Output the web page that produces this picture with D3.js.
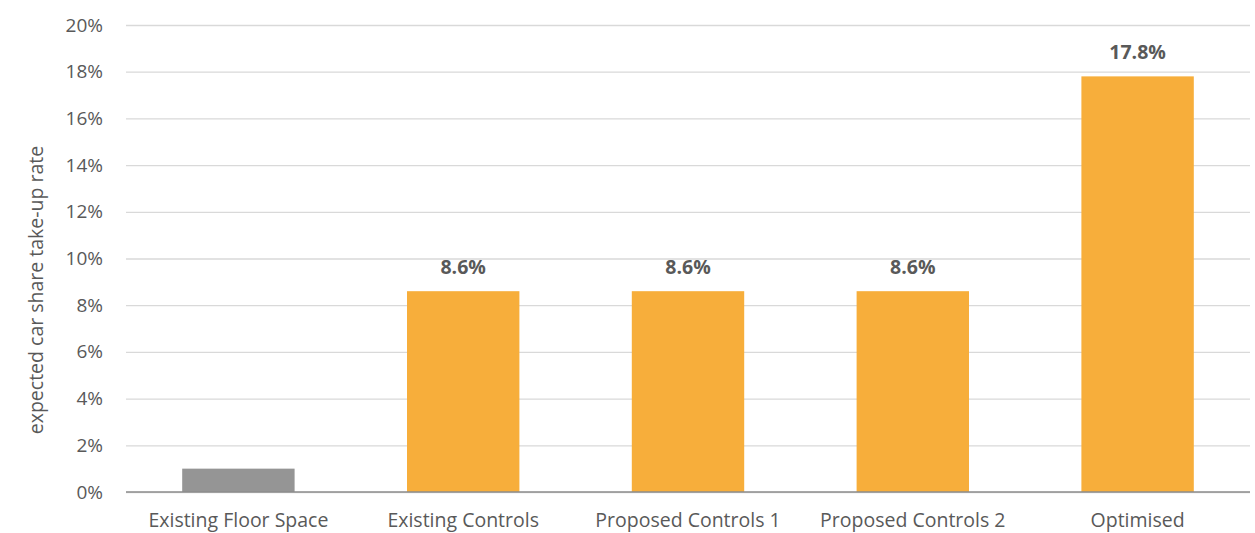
<!DOCTYPE html>
<html>
<head>
<meta charset="utf-8">
<script src="https://cdn.jsdelivr.net/npm/d3@7"></script>
<style>
  body { margin: 0; background: #fff; }
  text { font-family: "Open Sans", "Noto Sans", sans-serif; }
</style>
</head>
<body>
<div id="chart"></div>
<script>
// chart data
const categories = ["Existing Floor Space", "Existing Controls", "Proposed Controls 1", "Proposed Controls 2", "Optimised"];
const values = [0.010, 0.086, 0.086, 0.086, 0.178];
const showLabel = [false, true, true, true, true];
const barColors = ["#959595", "#f7ae3b", "#f7ae3b", "#f7ae3b", "#f7ae3b"];
const yTicks = [0, 0.02, 0.04, 0.06, 0.08, 0.10, 0.12, 0.14, 0.16, 0.18, 0.20];

const width = 1255, height = 533;
const margin = {top: 25, right: 5, bottom: 41, left: 126};
const innerW = width - margin.left - margin.right;
const innerH = height - margin.top - margin.bottom;

const svg = d3.select("#chart").append("svg")
    .attr("width", width)
    .attr("height", height);

const g = svg.append("g")
    .attr("transform", `translate(${margin.left},${margin.top})`);

const x = d3.scaleBand()
    .domain(categories)
    .range([0, innerW])
    .paddingInner(0.5)
    .paddingOuter(0.25);

const y = d3.scaleLinear()
    .domain([0, 0.20])
    .range([innerH, 0]);

// gridlines + y tick labels
const yAxis = d3.axisLeft(y)
    .tickValues(yTicks)
    .tickSize(-innerW)
    .tickPadding(23)
    .tickFormat(d3.format(".0%"));

const gy = g.append("g").call(yAxis);
gy.select(".domain").remove();
gy.selectAll(".tick line").attr("stroke", "#d9d9d9").attr("stroke-width", 1.3);
gy.selectAll(".tick text")
    .attr("fill", "#595959")
    .style("font-size", "19px");

// bars
const barData = categories.map((c, i) => ({cat: c, value: values[i], color: barColors[i], label: showLabel[i]}));

g.selectAll(".bar")
    .data(barData)
    .join("rect")
    .attr("class", "bar")
    .attr("x", d => x(d.cat))
    .attr("width", x.bandwidth())
    .attr("y", d => y(d.value))
    .attr("height", d => y(0) - y(d.value))
    .attr("fill", d => d.color);

// baseline
g.append("line")
    .attr("x1", 0).attr("x2", innerW)
    .attr("y1", y(0)).attr("y2", y(0))
    .attr("stroke", "#8c8c8c")
    .attr("stroke-width", 1.3);

// data labels
g.selectAll(".label")
    .data(barData.filter(d => d.label))
    .join("text")
    .attr("class", "label")
    .attr("x", d => x(d.cat) + x.bandwidth() / 2)
    .attr("y", d => y(d.value) - 17)
    .attr("text-anchor", "middle")
    .attr("fill", "#595959")
    .style("font-size", "19.5px")
    .style("font-weight", "bold")
    .text(d => (d.value * 100).toFixed(1) + "%");

// x axis labels
const xAxis = d3.axisBottom(x).tickSize(0).tickPadding(21);
const gx = g.append("g")
    .attr("transform", `translate(0,${innerH})`)
    .call(xAxis);
gx.select(".domain").remove();
gx.selectAll(".tick text")
    .attr("fill", "#595959")
    .style("font-size", "19.5px");

// y axis title
svg.append("text")
    .attr("transform", "translate(43,290) rotate(-90)")
    .attr("text-anchor", "middle")
    .attr("fill", "#595959")
    .style("font-size", "19.5px")
    .text("expected car share take-up rate");
</script>
</body>
</html>
